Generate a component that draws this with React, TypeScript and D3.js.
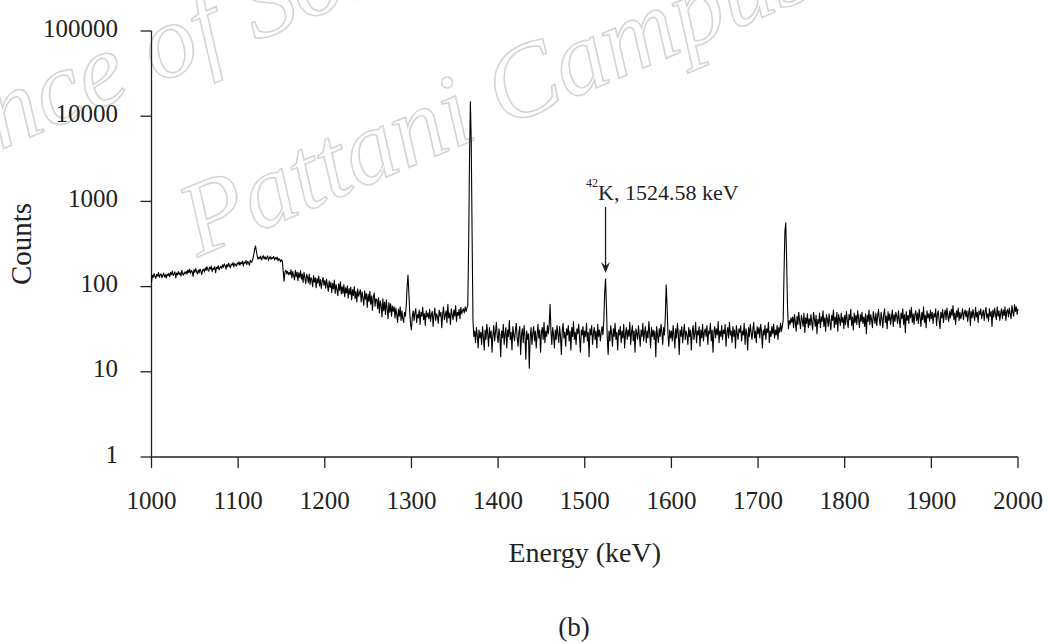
import React from "react";
import * as d3 from "d3";

// ---- data ----
const xTickValues = [1000, 1100, 1200, 1300, 1400, 1500, 1600, 1700, 1800, 1900, 2000];
const yTickValues = [1, 10, 100, 1000, 10000, 100000];
const energyStart = 1000; // keV, first channel
const energyStep = 1; // keV per channel
// counts per channel, 20 channels per row
const counts = [
  113, 136, 128, 142, 131, 125, 139, 133, 146, 129, 137, 141, 127, 135, 144, 130, 138, 126, 140, 134, // 1000
  143, 131, 147, 138, 152, 135, 141, 149, 126, 144, 137, 150, 139, 145, 133, 155, 140, 136, 148, 142, // 1020
  151, 140, 157, 146, 160, 143, 154, 149, 132, 158, 147, 163, 150, 141, 156, 145, 161, 152, 139, 157, // 1040
  160, 148, 166, 155, 171, 158, 152, 169, 161, 174, 150, 165, 159, 172, 146, 168, 163, 176, 157, 167, // 1060
  173, 164, 180, 169, 185, 175, 160, 182, 171, 188, 176, 166, 184, 179, 191, 170, 186, 181, 174, 190, // 1080
  183, 195, 178, 192, 186, 199, 175, 194, 188, 202, 181, 197, 190, 178, 204, 193, 196, 212, 238, 270, // 1100
  300, 262, 228, 210, 222, 214, 228, 205, 219, 231, 212, 224, 208, 218, 229, 203, 216, 225, 209, 220, // 1120
  214, 226, 205, 219, 210, 222, 200, 214, 206, 196, 208, 199, 152, 116, 148, 156, 142, 151, 138, 147, // 1140
  138, 158, 126, 150, 135, 120, 155, 131, 148, 117, 145, 128, 154, 122, 140, 112, 147, 127, 108, 139, // 1160
  130, 111, 140, 106, 128, 119, 100, 135, 113, 127, 97, 124, 110, 133, 102, 121, 95, 116, 128, 104, // 1180
  118, 96, 122, 104, 88, 116, 98, 112, 85, 109, 94, 119, 83, 106, 92, 78, 108, 90, 114, 82, // 1200
  100, 83, 106, 76, 97, 84, 102, 73, 95, 81, 99, 70, 92, 78, 100, 72, 88, 66, 94, 77, // 1220
  84, 92, 66, 87, 74, 60, 89, 71, 83, 57, 81, 67, 88, 62, 78, 53, 75, 84, 59, 72, // 1240
  70, 55, 74, 49, 68, 60, 44, 72, 52, 66, 47, 70, 55, 42, 65, 50, 63, 45, 59, 51, // 1260
  58, 43, 56, 47, 38, 54, 45, 58, 40, 52, 42, 38, 50, 45, 60, 100, 137, 85, 50, 36, // 1280
  31, 45, 52, 40, 49, 55, 38, 47, 43, 53, 36, 50, 45, 57, 41, 48, 35, 52, 44, 49, // 1300
  42, 54, 39, 47, 51, 34, 46, 56, 40, 48, 44, 37, 53, 45, 50, 33, 47, 58, 41, 46, // 1320
  52, 38, 62, 43, 49, 36, 55, 47, 41, 53, 45, 60, 39, 50, 46, 54, 42, 57, 48, 52, // 1340
  55, 49, 58, 51, 56, 60, 300, 3000, 14800, 5000, 400, 40, 26, 30, 22, 33, 27, 19, 31, 25, // 1360
  29, 21, 34, 26, 18, 31, 24, 36, 28, 20, 33, 25, 30, 17, 27, 35, 23, 29, 38, 26, // 1380
  22, 32, 27, 15, 30, 25, 36, 21, 28, 33, 19, 31, 26, 40, 24, 29, 18, 34, 27, 23, // 1400
  31, 37, 25, 20, 29, 34, 16, 27, 32, 22, 35, 26, 14, 30, 24, 28, 11, 25, 33, 21, // 1420
  28, 34, 23, 30, 19, 27, 36, 25, 31, 17, 29, 33, 24, 38, 22, 30, 26, 35, 28, 36, // 1440
  62, 30, 21, 33, 27, 19, 31, 24, 35, 28, 22, 34, 26, 16, 30, 37, 25, 29, 20, 32, // 1460
  27, 35, 23, 30, 18, 33, 26, 39, 24, 29, 21, 32, 28, 36, 25, 17, 31, 27, 34, 22, // 1480
  30, 26, 37, 23, 29, 15, 32, 27, 35, 21, 28, 33, 24, 30, 19, 36, 26, 31, 23, 29, // 1500
  34, 27, 40, 85, 123, 60, 25, 16, 30, 23, 35, 28, 20, 32, 26, 37, 24, 29, 18, 31, // 1520
  27, 34, 22, 30, 25, 36, 19, 28, 33, 24, 31, 26, 38, 21, 29, 35, 23, 30, 17, 32, // 1540
  28, 24, 35, 27, 20, 31, 26, 37, 23, 29, 34, 22, 30, 25, 39, 28, 19, 33, 26, 31, // 1560
  24, 30, 15, 34, 27, 22, 32, 26, 36, 29, 21, 33, 27, 45, 105, 60, 28, 20, 31, 25, // 1580
  30, 23, 35, 27, 19, 32, 25, 37, 28, 16, 31, 26, 34, 22, 29, 36, 24, 30, 27, 21, // 1600
  33, 26, 31, 18, 29, 35, 24, 28, 38, 22, 30, 27, 34, 20, 31, 25, 36, 23, 29, 32, // 1620
  26, 35, 21, 30, 28, 37, 23, 31, 17, 29, 34, 25, 32, 27, 39, 22, 30, 26, 35, 24, // 1640
  31, 28, 36, 20, 29, 33, 25, 38, 27, 30, 22, 34, 26, 31, 19, 35, 28, 24, 32, 29, // 1660
  35, 23, 30, 27, 37, 21, 32, 28, 18, 33, 26, 36, 29, 24, 31, 38, 25, 30, 22, 34, // 1680
  28, 33, 25, 36, 30, 19, 31, 27, 35, 24, 32, 29, 38, 22, 30, 26, 34, 28, 36, 25, // 1700
  31, 27, 35, 24, 33, 29, 37, 30, 34, 40, 150, 450, 560, 200, 60, 32, 40, 36, 43, 38, // 1720
  44, 33, 47, 38, 30, 45, 36, 50, 39, 32, 46, 41, 34, 49, 29, 43, 37, 48, 33, 42, // 1740
  35, 47, 38, 31, 50, 42, 34, 46, 28, 41, 37, 49, 33, 44, 39, 52, 34, 43, 30, 47, // 1760
  41, 34, 48, 38, 31, 46, 40, 53, 33, 44, 36, 50, 30, 47, 41, 35, 49, 38, 44, 32, // 1780
  46, 36, 51, 40, 33, 47, 41, 54, 35, 44, 31, 49, 38, 46, 36, 52, 42, 33, 47, 39, // 1800
  50, 37, 44, 34, 48, 28, 46, 39, 53, 36, 47, 41, 33, 51, 43, 37, 49, 35, 45, 54, // 1820
  41, 35, 50, 43, 33, 47, 55, 38, 45, 32, 51, 40, 48, 36, 44, 53, 34, 47, 39, 50, // 1840
  45, 37, 52, 41, 33, 49, 42, 55, 36, 47, 29, 51, 40, 46, 37, 53, 43, 57, 38, 48, // 1860
  36, 47, 52, 40, 49, 37, 54, 44, 34, 50, 41, 58, 38, 46, 33, 52, 43, 48, 39, 53, // 1880
  42, 50, 37, 48, 44, 55, 35, 47, 52, 40, 32, 50, 43, 54, 38, 48, 53, 41, 56, 45, // 1900
  39, 51, 43, 54, 46, 60, 41, 49, 36, 52, 44, 56, 40, 50, 42, 47, 55, 41, 49, 53, // 1920
  44, 52, 39, 49, 56, 35, 51, 43, 54, 46, 40, 57, 44, 50, 38, 52, 47, 55, 42, 48, // 1940
  53, 40, 50, 57, 43, 48, 39, 55, 45, 51, 34, 53, 44, 56, 47, 41, 58, 45, 52, 40, // 1960
  49, 55, 42, 53, 46, 58, 40, 51, 54, 44, 56, 48, 42, 60, 50, 45, 61, 51, 58, 47, // 1980
  55, // 2000
];
const annotationIsotope = "42";
const annotationText = "K, 1524.58 keV";
const annotationEnergy = 1524;
const annotationCounts = 123;
const xTitle = "Energy (keV)";
const yTitle = "Counts";
const caption = "(b)";
const watermarkLine1 = "Prince of Songkla University";
const watermarkLine2 = "Pattani Campus";

// ---- layout ----
const W = 1050;
const H = 644;
const left = 151.5;
const right = 1018;
const top = 31;
const bottom = 457;
const serif = "Liberation Serif, DejaVu Serif, serif";
const ink = "#222";

export default function App() {
  const x = d3.scaleLinear().domain([1000, 2000]).range([left, right]);
  const y = d3.scaleLog().domain([1, 100000]).range([bottom, top]);
  const data = counts.map((c, i) => ({ e: energyStart + i * energyStep, c }));
  const line = d3
    .line<{ e: number; c: number }>()
    .x((d) => x(d.e))
    .y((d) => y(d.c));

  const ax = x(annotationEnergy);
  const tipY = y(annotationCounts) - 6;
  const arrowTop = 207;

  return (
    <div style={{ position: "absolute", left: 0, top: 0 }}>
      <svg width={W} height={H} style={{ display: "block", background: "#fff" }}>
        {/* watermark */}
        <g fill="#fff" stroke="#d4d4d4" strokeWidth={1.6} fontFamily={serif} fontStyle="italic" fontSize={104}>
          <text transform="translate(-122,202) rotate(-23)">{watermarkLine1}</text>
          <text transform="translate(198,257) rotate(-23)">{watermarkLine2}</text>
        </g>

        {/* axes */}
        <g stroke={ink} strokeWidth={1.3} fill="none">
          <line x1={left} x2={left} y1={top} y2={bottom} />
          <line x1={left} x2={right} y1={bottom} y2={bottom} />
          {yTickValues.map((v) => (
            <line key={"yt" + v} x1={left - 11} x2={left} y1={y(v)} y2={y(v)} />
          ))}
          {xTickValues.map((v) => (
            <line key={"xt" + v} x1={x(v)} x2={x(v)} y1={bottom} y2={bottom + 11} />
          ))}
        </g>
        <g fill={ink} fontFamily={serif} fontSize={25}>
          {yTickValues.map((v) => (
            <text key={"yl" + v} x={118} y={y(v) + 5.5} textAnchor="end">
              {String(v)}
            </text>
          ))}
          {xTickValues.map((v) => (
            <text key={"xl" + v} x={x(v)} y={509} textAnchor="middle">
              {String(v)}
            </text>
          ))}
        </g>

        {/* titles */}
        <text x={(left + right) / 2} y={562} textAnchor="middle" fontFamily={serif} fontSize={28} fill={ink}>
          {xTitle}
        </text>
        <text
          transform={`translate(31,${(top + bottom) / 2}) rotate(-90)`}
          textAnchor="middle"
          fontFamily={serif}
          fontSize={29}
          fill={ink}
        >
          {yTitle}
        </text>
        <text x={574} y={636} textAnchor="middle" fontFamily={serif} fontSize={27} fill={ink}>
          {caption}
        </text>

        {/* spectrum */}
        <path d={line(data) || ""} fill="none" stroke="#000" strokeWidth={1.1} strokeLinejoin="round" />

        {/* annotation */}
        <g fill={ink} fontFamily={serif}>
          <text x={586} y={187} fontSize={12}>
            {annotationIsotope}
          </text>
          <text x={598} y={200} fontSize={22}>
            {annotationText}
          </text>
        </g>
        <line x1={ax} x2={ax} y1={arrowTop} y2={tipY - 4} stroke={ink} strokeWidth={1.3} />
        <path
          d={`M${ax},${tipY} L${ax - 4.5},${tipY - 11} L${ax},${tipY - 7} L${ax + 4.5},${tipY - 11} Z`}
          fill={ink}
        />
      </svg>
    </div>
  );
}
